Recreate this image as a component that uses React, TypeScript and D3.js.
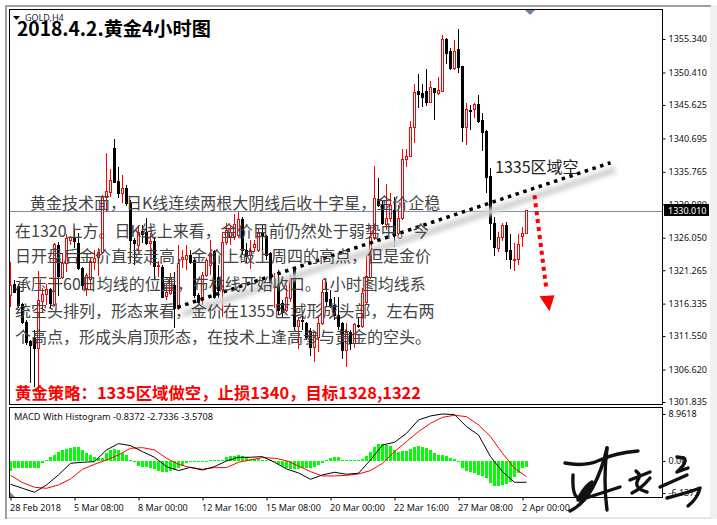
import React, { useEffect, useRef } from 'react';
import * as d3 from 'd3';

// GOLD H4, one entry per candle, oldest first. R = up candle, K = down candle
const directions =
  'RKKKKKKRRR' + 'KRKRRRKKKR' + 'RRRRRRKKRK' + 'KKRKKRKRKR' + 'RKRRRKKKRR' + 'RKKRRRRRKK' + 'RRRKKKRKKR' +
  'RKRKKKRRRK' + 'KKKKRKRKRR' + 'RRKKRRKRRR' + 'RRKKKRKRRK' + 'KRKKRKRKKK' + 'KKRRKKRRRR';

const highs = [
  1322.5,1319.8,1319.2,1316.4,1313.9,1311.0,1312.5,1321.1,1318.6,1319.2,
  1318.6,1325.3,1325.4,1323.8,1326.6,1326.3,1327.2,1326.8,1321.7,1320.8,
  1323.1,1324.2,1324.5,1332.3,1338.5,1336.2,1340.6,1336.5,1335.3,1333.8,
  1331.6,1326.0,1327.6,1327.9,1329.0,1326.8,1326.2,1322.6,1322.0,1319.4,
  1320.8,1321.0,1325.0,1324.2,1325.0,1324.2,1323.1,1317.9,1321.0,1323.1,
  1325.7,1324.2,1322.0,1326.9,1328.2,1327.9,1329.5,1329.8,1329.1,1325.3,
  1325.7,1325.7,1327.5,1328.1,1326.5,1324.0,1320.8,1321.3,1316.9,1319.1,
  1320.5,1321.6,1314.4,1314.7,1313.6,1312.7,1312.3,1314.7,1319.8,1319.5,
  1318.3,1317.3,1317.3,1313.6,1313.5,1312.5,1313.5,1314.4,1318.6,1323.5,
  1327.9,1336.6,1334.9,1331.6,1334.0,1332.6,1332.1,1330.9,1339.1,1339.1,
  1343.3,1348.7,1350.2,1348.7,1350.9,1349.1,1348.1,1349.7,1355.9,1355.5,
  1354.0,1355.2,1356.8,1351.4,1345.9,1345.6,1345.9,1347.1,1344.4,1341.9,
  1336.3,1329.1,1326.9,1328.2,1328.4,1326.6,1325.3,1326.6,1327.6,1330.1,
];

const bodyTops = [
  1319.1,1319.2,1318.9,1316.3,1313.6,1310.8,1311.3,1316.9,1317.8,1318.5,
  1318.5,1325.1,1325.0,1322.3,1326.0,1326.2,1326.2,1325.3,1321.6,1320.5,
  1322.6,1323.1,1324.0,1332.2,1332.9,1334.6,1339.3,1334.4,1333.4,1333.4,
  1331.3,1325.7,1326.9,1327.0,1326.9,1325.6,1325.6,1322.0,1321.7,1318.0,
  1320.3,1319.1,1322.3,1323.2,1323.5,1323.5,1322.8,1317.6,1320.5,1322.8,
  1323.8,1324.1,1320.3,1325.4,1327.2,1326.9,1328.1,1328.8,1328.8,1324.2,
  1324.2,1325.1,1326.7,1326.9,1326.3,1323.8,1319.1,1319.4,1316.4,1317.3,
  1320.0,1321.4,1313.9,1313.9,1313.5,1312.3,1312.2,1313.5,1318.0,1318.0,
  1317.0,1316.1,1314.7,1313.5,1312.2,1312.2,1313.3,1313.2,1317.9,1320.4,
  1326.2,1331.9,1331.8,1330.9,1328.9,1330.9,1330.1,1328.9,1337.7,1338.1,
  1342.4,1347.5,1347.7,1347.4,1347.7,1348.3,1348.1,1347.8,1355.3,1355.3,
  1353.6,1353.6,1353.9,1351.4,1345.0,1344.9,1345.8,1345.8,1343.4,1341.8,
  1335.1,1328.2,1326.2,1327.9,1327.9,1324.2,1322.9,1325.1,1326.8,1330.1,
];

const bodyBottoms = [
  1317.6,1318.0,1316.1,1313.6,1310.7,1310.2,1309.8,1309.8,1316.7,1317.8,
  1316.4,1316.3,1320.4,1320.3,1322.3,1325.7,1325.6,1321.6,1319.1,1318.6,
  1320.0,1322.5,1323.2,1324.0,1332.1,1332.8,1334.3,1332.6,1332.6,1331.2,
  1325.7,1325.3,1325.0,1326.6,1325.3,1325.3,1321.9,1321.9,1317.3,1317.5,
  1317.9,1315.7,1315.7,1322.9,1322.9,1322.5,1317.6,1316.6,1317.3,1320.5,
  1322.0,1317.3,1318.3,1318.5,1325.4,1326.3,1326.3,1326.4,1324.2,1323.4,
  1323.5,1324.7,1324.2,1326.3,1323.5,1318.9,1318.8,1315.4,1315.1,1315.4,
  1317.2,1313.0,1313.0,1313.8,1311.4,1309.9,1309.9,1311.4,1313.5,1316.7,
  1316.0,1314.7,1313.0,1309.5,1309.5,1310.5,1310.5,1313.0,1313.0,1316.6,
  1320.3,1326.2,1330.9,1328.2,1328.1,1328.9,1326.8,1326.8,1328.9,1337.7,
  1338.1,1342.4,1347.2,1346.8,1346.1,1346.1,1347.5,1347.4,1347.7,1353.3,
  1351.1,1351.1,1351.2,1342.4,1342.4,1344.7,1345.0,1343.3,1341.6,1335.0,
  1328.2,1324.7,1324.5,1326.2,1324.1,1322.9,1322.8,1322.9,1326.3,1326.8,
];

const lows = [
  1315.8,1317.9,1315.7,1313.3,1310.2,1304.6,1304.0,1303.6,1315.1,1316.1,
  1315.7,1316.0,1317.5,1320.0,1321.0,1325.0,1324.5,1321.3,1318.3,1317.5,
  1318.3,1321.3,1320.4,1323.7,1329.8,1332.1,1334.1,1331.9,1331.2,1330.7,
  1322.3,1322.0,1323.7,1325.3,1325.0,1322.0,1319.8,1320.3,1317.2,1316.9,
  1317.6,1312.7,1315.4,1321.6,1321.3,1322.2,1317.2,1316.1,1316.1,1320.3,
  1320.5,1317.0,1317.2,1314.4,1325.0,1325.0,1325.7,1326.0,1323.5,1322.3,
  1321.4,1324.0,1324.0,1324.2,1322.8,1318.8,1315.7,1314.7,1314.2,1315.1,
  1316.6,1312.5,1309.6,1312.5,1311.0,1308.6,1307.7,1309.2,1313.2,1316.0,
  1315.7,1313.9,1312.5,1308.2,1307.0,1309.5,1309.8,1312.7,1312.7,1316.3,
  1320.0,1325.7,1330.6,1327.9,1327.2,1328.4,1324.7,1326.5,1328.7,1336.5,
  1337.9,1340.0,1345.2,1345.3,1345.5,1345.9,1343.4,1347.1,1347.5,1351.7,
  1350.8,1350.8,1350.3,1340.2,1339.7,1341.9,1343.7,1343.0,1338.8,1332.6,
  1325.7,1323.4,1324.0,1325.6,1322.8,1321.4,1321.1,1322.0,1324.7,1326.8,
];

const histogram = [
  -1.91,-1.34,-1.34,-1.34,-1.34,-1.34,-1.34,-1.34,-0.38,0.19,
  0.76,1.15,1.72,2.10,2.29,2.48,2.67,2.67,2.10,1.53,
  1.15,0.76,0.57,0.57,1.53,2.10,2.29,2.10,1.53,1.15,
  0.19,-0.19,-0.95,-1.15,-1.15,-1.34,-1.53,-1.91,-2.10,-2.10,
  -1.91,-1.72,-1.34,-0.95,-0.38,-0.19,-0.19,-0.19,-0.19,-0.19,
  0.19,0.19,0.19,0.19,0.76,0.95,0.95,1.15,0.95,0.76,
  0.38,0.38,0.38,0.19,0.19,0.19,-0.19,-0.57,-0.95,-1.34,
  -1.53,-1.53,-1.53,-1.34,-1.34,-1.34,-1.15,-0.76,-0.29,0.19,
  0.57,0.76,0.76,0.19,0.1,0.1,0.1,0.1,0.38,0.95,
  1.72,2.67,3.24,3.24,3.05,2.86,2.10,1.72,1.91,1.91,
  2.29,2.67,2.86,2.67,2.48,2.10,1.53,1.15,1.15,0.95,
  0.57,0.38,-0.19,-1.34,-1.91,-2.10,-2.29,-2.67,-2.86,-3.24,
  -4.20,-4.77,-4.77,-4.58,-4.39,-4.01,-3.05,-2.29,-1.34,-1.15,
];

// the two MACD lines, read every third candle
const lineIndex = d3.range(0, 130, 3);
const macdLine = [
  -4.45,-5.22,-5.98,-4.58,-2.67,-0.45,-0.25,-0.13,2.10,3.31,2.93,1.78,0.70,-1.08,-1.84,-1.21,-1.72,-1.08,0,0.70,0.70,0.83,-0.25,-1.53,-2.29,
  -3.50,-2.67,-2.16,-2.54,-2.35,0.19,3.05,3.56,5.28,7.82,8.59,8.97,8.84,6.55,4.96,0.83,-2.04,-4.07,-4.07,
];
const signalLine = [
  -2.74,-4.13,-5.03,-5.22,-4.58,-3.44,-1.59,-0.64,0.19,1.15,2.42,2.54,2.10,0.51,-0.64,-1.27,-1.59,-1.27,-1.27,-0.25,0.19,0.64,0.51,0.06,-0.95,
  -2.04,-2.86,-2.86,-2.74,-2.48,-1.84,-0.45,1.78,3.69,5.60,7.19,8.33,8.72,8.46,6.87,4.64,1.46,-1.40,-2.99,
];

const priceTicks = [1355.34, 1350.41, 1345.625, 1340.695, 1335.765, 1330.98, 1326.05, 1321.265, 1316.335, 1311.55, 1306.62, 1301.835];
const macdTicks = [8.9618, 0, -6.1373];
const timeTickIndex = [0, 16, 32, 48, 64, 80, 96, 112, 128];
const timeLabels = ['28 Feb 2018', '5 Mar 08:00', '8 Mar 00:00', '12 Mar 16:00', '15 Mar 08:00', '20 Mar 00:00', '22 Mar 16:00', '27 Mar 08:00', '2 Apr 00:00'];

const lastPrice = 1330.01;
// drawn on the chart: [candle index, price]
const trendLine: [number, number][] = [[41.75, 1315.8], [150, 1337.1]];
const targetArrow: [number, number][] = [[131, 1332.3], [134, 1318.3]];

const article = [
  '黄金技术面，日K线连续两根大阴线后收十字星，金价企稳',
  '在1320上方。日K线上来看，金价目前仍然处于弱势中。今',
  '日开盘后金价直接走高，金价上破上周四的高点，但是金价',
  '承压于60日均线的位置，布林线开始收口。1小时图均线系',
  '统空头排列，形态来看，金价在1355区域形成头部，左右两',
  '个高点，形成头肩顶形态，在技术上逢高参与黄金的空头。',
];

const signature = [
  'M565,463 Q585,467 600,460 T638,451',
  'M607,448 Q602,470 593,487 T570,511',
  'M607,448 Q603,480 607,510',
  'M573,475 Q572,497 579,498 Q592,492 593,485 Q585,500 578,500 Q582,490 590,483 M582,496 Q590,490 592,482',
  'M580,500 L620,487',
  'M630,480 L650,472 M636,471 L639,474 M639,478 Q632,488 647,492 M650,478 Q642,488 632,493',
  'M677,457 L684,458 Q688,462 677,472 L688,468 M660,487 L687,475 M667,498 Q690,492 700,488 Q698,498 688,506',
];

const uiFont = '"Noto Sans", sans-serif';
const cjkFont = '"Noto Sans CJK SC", sans-serif';

export default function App() {
  const priceAxisRef = useRef<SVGGElement>(null);
  const macdAxisRef = useRef<SVGGElement>(null);
  const timeAxisRef = useRef<SVGGElement>(null);

  const x = d3.scaleLinear().domain([0, 129]).range([10.5, 526.5]);
  const y = d3.scaleLinear().domain([1355.34, 1301.835]).range([39, 402]);
  const yMacd = d3.scaleLinear().domain([8.9618, -6.1373]).range([414, 493.1]);
  const snap = (v: number) => Math.round(v) + 0.5;

  useEffect(() => {
    const style = (g: any) => {
      g.select('.domain').remove();
      g.selectAll('line').attr('stroke', '#000');
      g.selectAll('text').attr('fill', '#111').style('font-family', uiFont).style('font-size', '9px');
    };
    d3.select(priceAxisRef.current)
      .call(d3.axisRight(y).tickValues(priceTicks).tickSize(3).tickPadding(3).tickFormat(d3.format('.3f')) as any)
      .call(style);
    d3.select(macdAxisRef.current)
      .call(d3.axisRight(yMacd).tickValues(macdTicks).tickSize(3).tickPadding(3)
        .tickFormat((d: any) => (d === 0 ? '0.00' : d3.format('.4f')(d).replace('−', '-'))) as any)
      .call(style);
    d3.select(timeAxisRef.current)
      .call(d3.axisBottom(x).tickValues(timeTickIndex).tickSize(3).tickPadding(4)
        .tickFormat((d: any) => timeLabels[timeTickIndex.indexOf(d)]) as any)
      .call(style);
    d3.select(timeAxisRef.current).selectAll('text').attr('text-anchor', 'start').attr('dx', -1);
  }, []);

  const line = d3.line<number>().x((_, i) => x(lineIndex[i])).curve(d3.curveLinear);
  const macdPath = line.y(d => yMacd(d))(macdLine) || '';
  const signalPath = line.y(d => yMacd(d))(signalLine) || '';

  const trend = trendLine.map(d => [x(d[0]), y(d[1])]);
  const arrow = targetArrow.map(d => [x(d[0]), y(d[1])]);
  const tip = arrow[1];

  return (
    <svg width={717} height={525} style={{ position: 'fixed', left: 0, top: 0, background: '#fff' }}>
      <defs>
        <filter id="blurShadow" x="-10%" y="-50%" width="120%" height="200%">
          <feGaussianBlur stdDeviation="2" />
        </filter>
      </defs>

      {/* window frame */}
      <rect x={710} y={5} width={7} height={514} fill="#f0f0f0" />
      <rect x={5} y={517} width={706} height={2} fill="#e6e6e6" />
      <rect x={5} y={5} width={706} height={2} fill="#a0a0a0" />
      <rect x={5} y={5} width={2} height={514} fill="#a0a0a0" />

      {/* price panel */}
      <line x1={9} x2={662} y1={snap(y(lastPrice))} y2={snap(y(lastPrice))} stroke="#7b8ea3" />

      {/* candles */}
      <g shapeRendering="crispEdges">
        {highs.map((h, i) => {
          const bull = directions[i] === 'R';
          const cx = x(i);
          const top = Math.round(y(bodyTops[i]));
          const bot = Math.max(Math.round(y(bodyBottoms[i])), top + 1);
          const color = bull ? '#ff0000' : '#000';
          return (
            <g key={i}>
              <line x1={cx} x2={cx} y1={Math.round(y(h))} y2={Math.round(y(lows[i]))} stroke={color} />
              {bull
                ? <rect x={cx - 1} y={top + 0.5} width={2} height={bot - top} fill="#fff" stroke={color} />
                : <rect x={cx - 1.5} y={top} width={3} height={bot - top + 1} fill="#000" />}
            </g>
          );
        })}
      </g>

      {/* MACD panel */}
      <g shapeRendering="crispEdges">
        {histogram.map((v, i) => (
          <rect key={i} x={x(i) - 1.5} width={3}
            y={Math.round(Math.min(yMacd(v), yMacd(0)))}
            height={Math.max(1, Math.round(Math.abs(yMacd(v) - yMacd(0))))}
            fill="#00ff00" />
        ))}
      </g>
      <path d={signalPath} fill="none" stroke="#ff0000" strokeWidth={1} />
      <path d={macdPath} fill="none" stroke="#000" strokeWidth={1} />
      <path d="M10,492 L15,497 L10,497 Z" fill="#6f8499" />
      <path d="M525,10 L535,10 L530,15 Z" fill="#6f8499" />

      {/* panel borders */}
      <g fill="none" stroke="#000" shapeRendering="crispEdges">
        <rect x={9.5} y={9.5} width={653} height={395} />
        <rect x={9.5} y={407.5} width={653} height={90} />
      </g>
      <g ref={priceAxisRef} transform="translate(662.5,0)" />
      <g ref={macdAxisRef} transform="translate(662.5,0)" />
      <g ref={timeAxisRef} transform="translate(0,497.5)" />

      <rect x={664} y={204} width={45} height={12} fill="#000" />
      <text x={668} y={213.5} fill="#fff" fontFamily={uiFont} fontSize={9}>{d3.format('.3f')(lastPrice)}</text>

      <path d="M13,16 L20,16 L16.5,20 Z" fill="#000" />
      <text x={25} y={21} fill="#223" fontFamily={uiFont} fontSize={9}>GOLD,H4</text>
      <text x={14} y={420} fill="#111" fontFamily={uiFont} fontSize={9.2}>MACD With Histogram -0.8372 -2.7336 -3.5708</text>

      {/* drawn objects */}
      <line x1={trend[0][0] + 5} y1={trend[0][1] + 7} x2={trend[1][0] + 5} y2={trend[1][1] + 7}
        stroke="#d4d4d4" strokeWidth={7} filter="url(#blurShadow)" />
      <line x1={trend[0][0]} y1={trend[0][1]} x2={trend[1][0]} y2={trend[1][1]}
        stroke="#000" strokeWidth={3.5} strokeDasharray="3.5 4.6" />
      <line x1={arrow[0][0]} y1={arrow[0][1]} x2={arrow[1][0]} y2={arrow[1][1]}
        stroke="#ff0000" strokeWidth={4} strokeDasharray="4 4" />
      <path d={`M${tip[0] - 7},${tip[1] + 6} L${tip[0] + 8},${tip[1] + 5} L${tip[0] + 3},${tip[1] + 21} Z`} fill="#ff0000" />

      {/* article text */}
      <text x={17} y={36} fill="#000" fontFamily={cjkFont} fontWeight={700} fontSize={19.2}>2018.4.2.黄金4小时图</text>
      {article.map((t, i) => (
        <text key={i} x={i === 0 ? 30 : 15} y={209 + [0, 28, 53, 81, 108, 134][i]} fill="#444" fontFamily={cjkFont} fontSize={16}>{t}</text>
      ))}
      <text x={495} y={173} fill="#222" fontFamily={cjkFont} fontSize={16}>1335区域空</text>
      <text x={15} y={399} fill="#ff0000" fontFamily={cjkFont} fontWeight={700} fontSize={16.4}>黄金策略：1335区域做空，止损1340，目标1328,1322</text>

      {/* signature */}
      <g fill="none" stroke="#111" strokeWidth={3.4} strokeLinecap="round" strokeLinejoin="round">
        {signature.map((d, i) => <path key={i} d={d} />)}
      </g>
    </svg>
  );
}
